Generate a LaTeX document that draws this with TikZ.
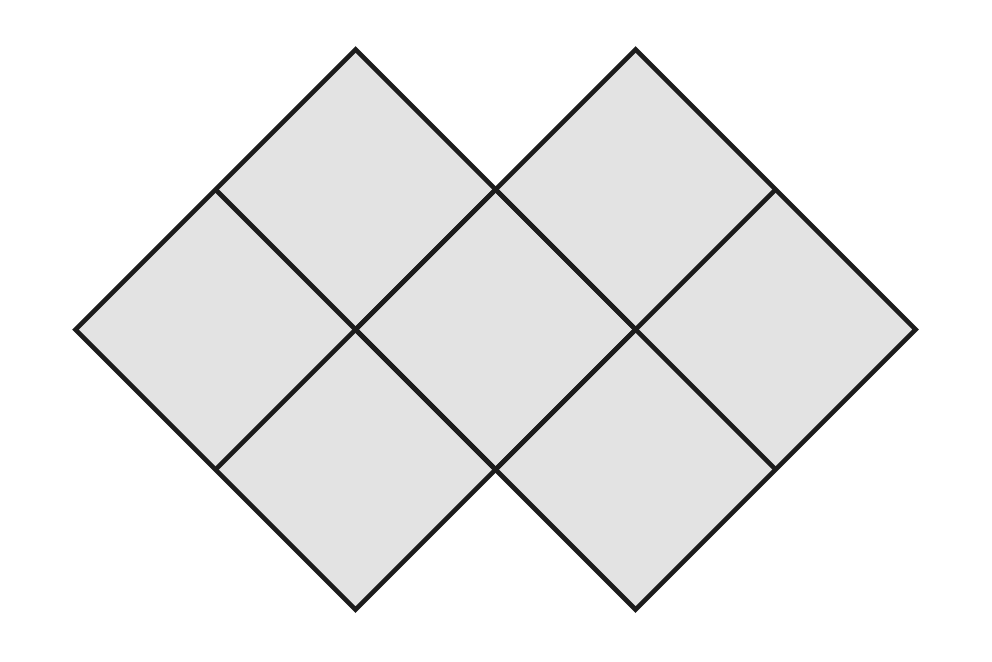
\documentclass[tikz,border=0pt]{standalone}
\usetikzlibrary{calc}
\begin{document}
\begin{tikzpicture}[x=1pt,y=-1pt]
\definecolor{tilefill}{HTML}{E3E3E3}
\definecolor{tileline}{HTML}{1C1C1C}
\tikzset{grid/.style={draw=tileline,line width=4.6pt}}
\useasboundingbox (0,0) rectangle (992,661);
% left diamond
\coordinate (LT) at (355.5,49.5);
\coordinate (LR) at (635.5,329.5);
\coordinate (LB) at (355.5,609.5);
\coordinate (LL) at (75.5,329.5);
% right diamond
\coordinate (RT) at (635.5,49.5);
\coordinate (RR) at (915.5,329.5);
\coordinate (RB) at (635.5,609.5);
\coordinate (RL) at (355.5,329.5);
\fill[tilefill] (LT) -- (LR) -- (LB) -- (LL) -- cycle;
\fill[tilefill] (RT) -- (RR) -- (RB) -- (RL) -- cycle;
% outer outlines
\draw[grid,line join=miter] (LT) -- (LR) -- (LB) -- (LL) -- cycle;
\draw[grid,line join=miter] (RT) -- (RR) -- (RB) -- (RL) -- cycle;
% midlines of left diamond
\draw[grid] ($(LT)!0.5!(LL)$) -- ($(LR)!0.5!(LB)$);
\draw[grid] ($(LT)!0.5!(LR)$) -- ($(LL)!0.5!(LB)$);
% midlines of right diamond
\draw[grid] ($(RT)!0.5!(RL)$) -- ($(RR)!0.5!(RB)$);
\draw[grid] ($(RT)!0.5!(RR)$) -- ($(RL)!0.5!(RB)$);
\end{tikzpicture}
\end{document}
